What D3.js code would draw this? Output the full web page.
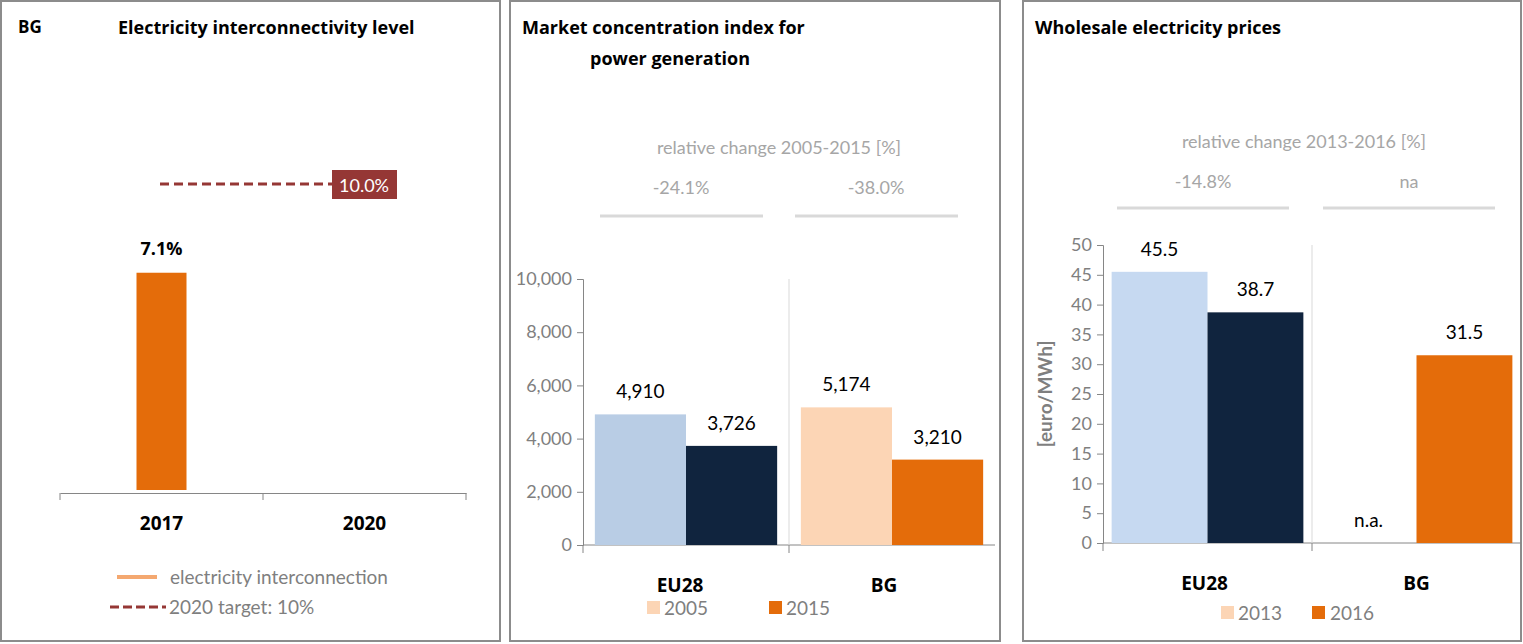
<!DOCTYPE html>
<html><head><meta charset="utf-8">
<script src="https://cdn.jsdelivr.net/npm/d3@7"></script>
<style>body{margin:0;background:#fff}svg{font-family:Lato,"Open Sans",sans-serif}</style>
</head><body><svg id="c" width="1523" height="644"></svg>
<script>
// Panel 1
const icYears = ["2017","2020"];
const icValues = [7.1, null];
const icTarget = 10.0;
// Panel 2
const hhiCats = ["EU28","BG"];
const hhiYears = ["2005","2015"];
const hhi2005 = [4910, 5174];
const hhi2015 = [3726, 3210];
const hhiChange = ["-24.1%","-38.0%"];
const hhiTicks = [0,2000,4000,6000,8000,10000];
// Panel 3
const priceCats = ["EU28","BG"];
const priceYears = ["2013","2016"];
const price2013 = [45.5, null];
const price2016 = [38.7, 31.5];
const priceChange = ["-14.8%","na"];
const priceTicks = [0,5,10,15,20,25,30,35,40,45,50];

const svg = d3.select("#c");
const gray="#7f7f7f";
[[1,1,499,640],[510,1,490,640],[1023,1,498,640]].forEach(r=>svg.append("rect").attr("x",r[0]).attr("y",r[1]).attr("width",r[2]).attr("height",r[3]).attr("fill","none").attr("stroke","#8c8c8c").attr("stroke-width",2));
function txt(x,y,s,o={}){const t=svg.append("text").attr("x",x).attr("y",y).text(s).attr("font-size",o.size||18).attr("fill",o.fill||"#000").attr("text-anchor",o.anchor||"start");if(o.bold)t.attr("font-weight","bold");if(o.font)t.attr("font-family",o.font);return t;}

// ---- Panel 1
const tf='"Open Sans",sans-serif';
txt(18,33,"BG",{bold:1,size:17,font:tf});
txt(118,34,"Electricity interconnectivity level",{bold:1,size:18,font:tf});
const x1=d3.scaleBand().domain(icYears).range([60,466]);
const y1=d3.scaleLinear().domain([0,10]).range([490,184]);
const ax1=svg.append("g").attr("transform","translate(0,493)").call(d3.axisBottom(x1).tickSize(0).tickFormat(""));
ax1.select(".domain").attr("stroke","#868686");
[60,263,466].forEach(x=>svg.append("line").attr("x1",x).attr("x2",x).attr("y1",493).attr("y2",500).attr("stroke","#868686"));
icYears.forEach(d=>txt(x1(d)+x1.bandwidth()/2,530,d,{bold:1,size:19,anchor:"middle",font:tf}));
icValues.forEach((v,i)=>{if(v==null)return;const cx=x1(icYears[i])+x1.bandwidth()/2;
 svg.append("rect").attr("x",cx-25).attr("width",50).attr("y",y1(v)).attr("height",y1(0)-y1(v)).attr("fill","#e46c0a");
 txt(cx,y1(v)-18,v.toFixed(1)+"%",{bold:1,size:18,anchor:"middle",font:tf});});
svg.append("line").attr("x1",160).attr("x2",332).attr("y1",y1(icTarget)).attr("y2",y1(icTarget)).attr("stroke","#953735").attr("stroke-width",3).attr("stroke-dasharray","9,5");
svg.append("rect").attr("x",332).attr("y",y1(icTarget)-14).attr("width",65).attr("height",29).attr("fill","#953735");
txt(364,y1(icTarget)+8,icTarget.toFixed(1)+"%",{fill:"#fff",size:18,anchor:"middle"});
svg.append("line").attr("x1",117).attr("x2",157).attr("y1",577).attr("y2",577).attr("stroke","#f4a870").attr("stroke-width",4);
txt(170,584,"electricity interconnection",{fill:gray,size:19});
svg.append("line").attr("x1",110).attr("x2",166).attr("y1",607).attr("y2",607).attr("stroke","#953735").attr("stroke-width",3).attr("stroke-dasharray","9,4");
txt(169,614,"2020 target: 10%",{fill:gray,size:19});

// grouped panel helper
function grouped(o){
 const x=d3.scaleBand().domain(o.cats).range([o.x0,o.x1]);
 const y=d3.scaleLinear().domain([0,o.max]).range([o.yb,o.yt]);
 const ax=svg.append("g").attr("transform",`translate(${o.x0},0)`).call(d3.axisLeft(y).tickValues(o.ticks).tickSize(6).tickFormat(o.fmt));
 ax.select(".domain").attr("stroke","#868686");ax.selectAll(".tick line").attr("stroke","#868686");
 ax.selectAll("text").attr("fill",gray).attr("font-size",18).attr("font-family","Lato,sans-serif").attr("dx",-2);
 svg.append("line").attr("x1",o.x0).attr("x2",o.x1).attr("y1",o.yb).attr("y2",o.yb).attr("stroke","#868686");
 o.cats.forEach((c,i)=>{svg.append("line").attr("x1",x(c)).attr("x2",x(c)).attr("y1",o.yb).attr("y2",o.yb+8).attr("stroke","#868686");
  if(i>0)svg.append("line").attr("x1",x(c)).attr("x2",x(c)).attr("y1",o.yt).attr("y2",o.yb).attr("stroke","#d9d9d9");});
 const inner=d3.scaleBand().domain([0,1]).range([0,x.bandwidth()]).paddingOuter(o.pad);
 o.cats.forEach((c,i)=>{
  txt(x(c)+x.bandwidth()/2+o.catdx[i],o.yb+47,c,{bold:1,size:19,anchor:"middle",font:tf});
  [o.a,o.b].forEach((arr,j)=>{const v=arr[i];const bx=x(c)+inner(j);const cx=bx+inner.bandwidth()/2;
   if(v==null){txt(cx,o.yb-16,"n.a.",{size:19,anchor:"middle"});return;}
   svg.append("rect").attr("x",bx).attr("width",inner.bandwidth()).attr("y",y(v)).attr("height",y(0)-y(v)).attr("fill",o.colors[i][j]);
   txt(cx,y(v)-16,o.lfmt(v),{size:19,anchor:"middle"});});
 });
 return x;
}
// ---- Panel 2
txt(522,34,"Market concentration index for",{bold:1,size:18,font:tf});
txt(590,65,"power generation",{bold:1,size:18,font:tf});
txt(779,154,"relative change 2005-2015 [%]",{fill:"#a6a6a6",size:18,anchor:"middle"});
const x2=grouped({cats:hhiCats,x0:583,x1:995,yb:545,yt:279,max:10000,ticks:hhiTicks,fmt:d3.format(","),lfmt:d3.format(","),a:hhi2005,b:hhi2015,pad:0.13,catdx:[-6,-8],
 colors:[["#b9cde5","#10243e"],["#fcd5b5","#e46c0a"]]});
hhiCats.forEach((c,i)=>{const cx=[681,876][i];txt(cx,194,hhiChange[i],{fill:"#a6a6a6",size:18,anchor:"middle"});
 svg.append("line").attr("x1",cx-81).attr("x2",cx+82).attr("y1",216).attr("y2",216).attr("stroke","#d9d9d9").attr("stroke-width",3);});
svg.append("rect").attr("x",647).attr("y",601).attr("width",13).attr("height",13).attr("fill","#fcd5b5");
txt(664,615,hhiYears[0],{fill:gray,size:19});
svg.append("rect").attr("x",769).attr("y",601).attr("width",13).attr("height",13).attr("fill","#e46c0a");
txt(786,615,hhiYears[1],{fill:gray,size:19});

// ---- Panel 3
txt(1035,34,"Wholesale electricity prices",{bold:1,size:18,font:tf});
txt(1304,148,"relative change 2013-2016 [%]",{fill:"#a6a6a6",size:18,anchor:"middle"});
grouped({cats:priceCats,x0:1103,x1:1521,yb:543,yt:245,max:50,ticks:priceTicks,fmt:d3.format("d"),lfmt:d3.format(".1f"),a:price2013,b:price2016,pad:0.09,catdx:[-3,0],
 colors:[["#c6d9f1","#10243e"],["#fcd5b5","#e46c0a"]]});
priceCats.forEach((c,i)=>{const cx=[1203,1409][i];txt(cx,188,priceChange[i],{fill:"#a6a6a6",size:18,anchor:"middle"});
 svg.append("line").attr("x1",cx-86).attr("x2",cx+86).attr("y1",208).attr("y2",208).attr("stroke","#d9d9d9").attr("stroke-width",3);});
svg.append("text").attr("transform","translate(1052,394) rotate(-90)").attr("text-anchor","middle").attr("font-weight","bold").attr("font-size",19).attr("fill",gray).text("[euro/MWh]");
svg.append("rect").attr("x",1221).attr("y",606).attr("width",13).attr("height",13).attr("fill","#fcd5b5");
txt(1238,620,priceYears[0],{fill:gray,size:19});
svg.append("rect").attr("x",1312).attr("y",606).attr("width",13).attr("height",13).attr("fill","#e46c0a");
txt(1330,620,priceYears[1],{fill:gray,size:19});
</script></body></html>
